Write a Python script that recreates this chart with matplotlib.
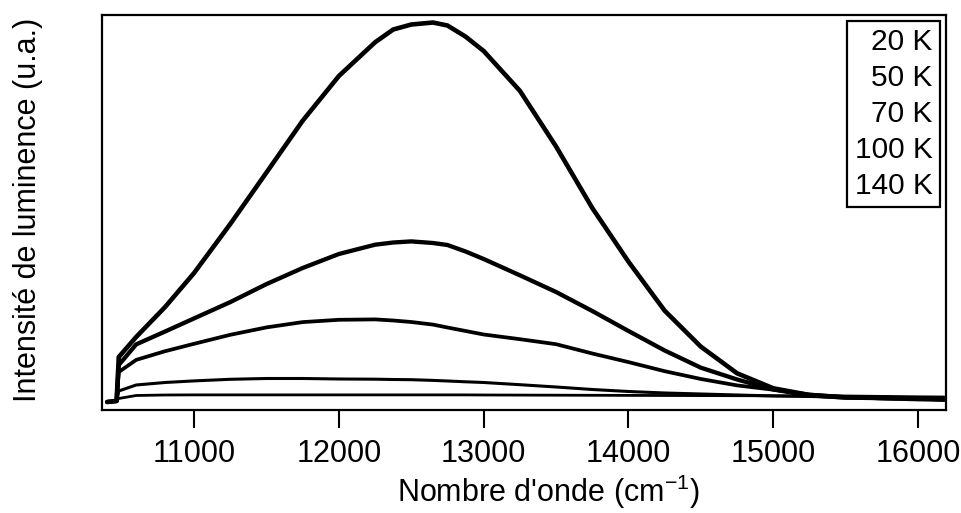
import matplotlib
matplotlib.use('Agg')
import matplotlib.pyplot as plt

# Wavenumber grid (cm^-1)
wavenumber = [10400, 10465, 10480, 10600, 10800, 11000, 11250, 11500, 11750, 12000,
              12250, 12375, 12500, 12650, 12750, 12875, 13000, 13250, 13500, 13750,
              14000, 14250, 14500, 14750, 15000, 15250, 15500, 15750, 16000, 16180]

# Luminescence intensity (arbitrary units) for each temperature
int_20K = [8, 9, 53, 73, 103, 137, 186, 237.5, 289.3, 334,
           367.7, 380.5, 385.5, 387.5, 384.5, 373.4, 359, 319.2, 263.5, 202,
           148.3, 99.3, 63.3, 36.7, 21.7, 15, 12.5, 12, 11.5, 11]
int_50K = [8, 9, 45, 65.6, 78.5, 91.6, 107.9, 125.9, 142, 156,
           165.3, 167.5, 168.6, 167, 165, 158.5, 151, 134.7, 118, 99,
           79, 59.5, 42.3, 30.5, 20.5, 14.5, 12.5, 12, 11.5, 11]
int_70K = [8, 9, 38, 50.1, 58.8, 66.2, 75.2, 82.6, 87.9, 90.2,
           90.6, 89.5, 88, 85.4, 82.5, 79, 75.5, 70.8, 65.8, 56.5,
           47.9, 38.8, 31, 24.6, 20.3, 15.5, 13, 11.5, 10.5, 10]
int_100K = [8, 9, 19, 25, 27.5, 29.1, 30.7, 31.5, 31.5, 31,
            30.8, 30.5, 30.3, 29.6, 29, 28.2, 27.5, 25.3, 23, 20.5,
            18.5, 17, 16, 15, 14, 13.5, 13, 12.5, 11, 10]
int_140K = [8, 9, 11.5, 14.5, 15, 15.1, 15.1, 15.1, 15.1, 15.1,
            15.1, 15.1, 15.1, 15.1, 15.1, 15.1, 15, 14.9, 14.8, 14.7,
            14.6, 14.5, 14.4, 14.3, 14.2, 14.1, 14, 13.6, 13.2, 13]

labels = ['20 K', '50 K', '70 K', '100 K', '140 K']
xticks = [11000, 12000, 13000, 14000, 15000, 16000]

plt.rcParams['font.family'] = ['Liberation Sans', 'DejaVu Sans']
plt.rcParams['mathtext.fontset'] = 'custom'
plt.rcParams['mathtext.rm'] = 'Liberation Sans'
plt.rcParams['mathtext.it'] = 'Liberation Sans:italic'
plt.rcParams['mathtext.bf'] = 'Liberation Sans:bold'

fig = plt.figure(figsize=(9.62, 5.13), dpi=100)
ax = fig.add_axes([0.1057, 0.2008, 0.8777, 0.7709])

series = [int_20K, int_50K, int_70K, int_100K, int_140K]
widths = [3.3, 3.1, 2.7, 2.2, 2.0]
for s, lw, lab in zip(series, widths, labels):
    ax.plot(wavenumber, s, color='black', lw=lw, solid_joinstyle='round',
            solid_capstyle='round', label=lab)

ax.set_xlim(10362, 16193)
ax.set_ylim(0, 395.5)
ax.set_xticks(xticks)
ax.set_xticklabels([str(t) for t in xticks])
ax.tick_params(axis='x', direction='out', length=13, width=1.5, pad=8,
               labelsize=22, top=False)
ax.tick_params(axis='y', left=False, labelleft=False, right=False)
for sp in ax.spines.values():
    sp.set_linewidth(1.6)

leg = ax.legend(handlelength=0, handletextpad=0, markerfirst=False,
                loc='upper right', bbox_to_anchor=(0.9929, 0.9836),
                borderaxespad=0, fontsize=21.5, labelspacing=0.26,
                borderpad=0.25, fancybox=False, framealpha=1,
                edgecolor='black')
leg.get_frame().set_linewidth(1.6)
for h in leg.legend_handles:
    h.set_visible(False)

fig.text(548 / 962, 1 - 492 / 513, "Nombre d'onde (cm$^{-1}$)",
         ha='center', va='center', fontsize=22)
fig.text(28 / 962, 1 - 210 / 513, 'Intensité de luminence (u.a.)',
         rotation=90, ha='center', va='center', fontsize=22)

fig.savefig('out.png', dpi=100)
